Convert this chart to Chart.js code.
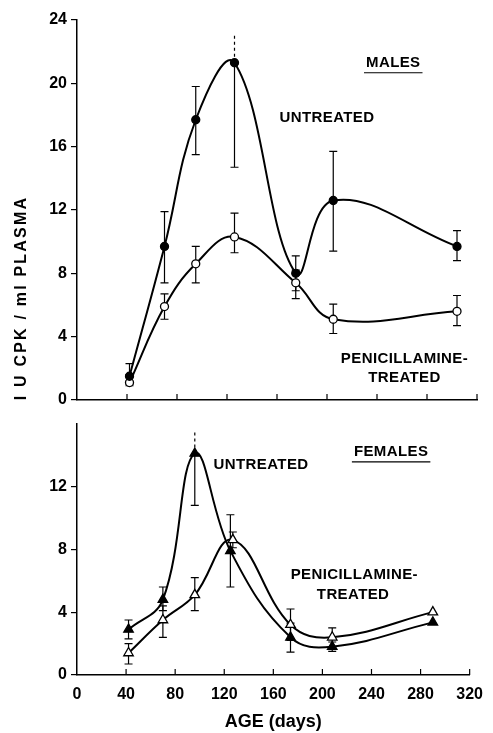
<!DOCTYPE html>
<html>
<head>
<meta charset="utf-8">
<script src="https://cdn.jsdelivr.net/npm/chart.js@4"></script>
<style>
    html, body { margin: 0; padding: 0; background: #fff; }
    #wrap { position: relative; width: 493px; height: 733px; }
    #males { position: absolute; left: 0; top: 0; }
    #females { position: absolute; left: 0; top: 410px; }
</style>
</head>
<body>
<div id="wrap">
    <canvas id="males" width="493" height="420"></canvas>
    <canvas id="females" width="493" height="323"></canvas>
</div>
<script>
// x axis (age in days)
const xTicks = [0, 40, 80, 120, 160, 200, 240, 280, 320];

// males
const maleAge = [42, 70, 95, 126, 175, 205, 304];
const maleUntreated = [1.5, 9.7, 17.7, 21.3, 8.0, 12.6, 9.7];
const maleUntreatedLow = [1.0, 7.4, 15.5, 14.7, 6.9, 9.4, 8.8];
const maleUntreatedHigh = [2.3, 11.9, 19.8, 23.2, 9.1, 15.7, 10.7];
const maleUntreatedDashed = [false, false, false, true, false, false, false];
const maleTreated = [1.1, 5.9, 8.6, 10.3, 7.4, 5.1, 5.6];
const maleTreatedLow = [0.9, 5.1, 7.4, 9.3, 6.4, 4.2, 4.7];
const maleTreatedHigh = [1.6, 6.7, 9.7, 11.8, 8.2, 6.05, 6.6];
const maleYTicks = [0, 4, 8, 12, 16, 20, 24];

// females
const femaleAge = [42, 70, 96, 125, 174, 208, 290];
const femaleTreatedAge = [42, 70, 96, 127, 174, 208, 290];
const femaleUntreated = [2.9, 4.8, 14.1, 7.9, 2.4, 1.8, 3.35];
const femaleUntreatedLow = [2.3, 4.1, 10.8, 5.6, 1.45, 1.5, null];
const femaleUntreatedHigh = [3.5, 5.6, 15.6, 10.2, 3.3, 2.1, null];
const femaleUntreatedDashed = [false, false, true, false, false, false, false];
const femaleTreated = [1.4, 3.5, 5.1, 8.6, 3.2, 2.4, 4.0];
const femaleTreatedLow = [0.7, 2.4, 4.1, 8.1, 2.2, 1.8, null];
const femaleTreatedHigh = [2.0, 4.4, 6.2, 9.1, 4.2, 3.0, null];
const femaleYTicks = [0, 4, 8, 12];

function toPoints(xs, ys) {
    return xs.map((x, i) => ({ x: x, y: ys[i] }));
}

// error bars drawn under the markers
const errorBars = {
    id: 'errorBars',
    beforeDatasetsDraw(chart) {
        const ctx = chart.ctx;
        const xs = chart.scales.x, ys = chart.scales.y;
        ctx.save();
        ctx.strokeStyle = '#000';
        ctx.lineWidth = 1.2;
        chart.data.datasets.forEach(ds => {
            if (!ds.errLow) return;
            ds.data.forEach((p, i) => {
                const px = xs.getPixelForValue(p.x);
                const py = ys.getPixelForValue(p.y);
                const lo = ds.errLow[i], hi = ds.errHigh[i];
                const dashed = ds.errDashed && ds.errDashed[i];
                if (lo != null) {
                    const yl = ys.getPixelForValue(lo);
                    ctx.beginPath();
                    ctx.moveTo(px, py); ctx.lineTo(px, yl);
                    ctx.moveTo(px - 4, yl); ctx.lineTo(px + 4, yl);
                    ctx.stroke();
                }
                if (hi != null) {
                    const yh = ys.getPixelForValue(hi);
                    ctx.beginPath();
                    if (dashed) {
                        ctx.setLineDash([3, 3]);
                        ctx.moveTo(px, py); ctx.lineTo(px, yh);
                        ctx.stroke();
                        ctx.setLineDash([]);
                    } else {
                        ctx.moveTo(px, py); ctx.lineTo(px, yh);
                        ctx.moveTo(px - 4, yh); ctx.lineTo(px + 4, yh);
                        ctx.stroke();
                    }
                }
            });
        });
        ctx.restore();
    }
};

// x tick marks pointing into the plot, plus the free text labels
const extras = {
    id: 'extras',
    afterDraw(chart, args, opts) {
        const ctx = chart.ctx;
        const xs = chart.scales.x, ys = chart.scales.y;
        ctx.save();
        ctx.strokeStyle = '#000';
        ctx.lineWidth = 1.2;
        xs.ticks.forEach(t => {
            if (t.value === 0) return;
            const px = xs.getPixelForValue(t.value);
            ctx.beginPath();
            ctx.moveTo(px, ys.bottom);
            ctx.lineTo(px, ys.bottom - 6);
            ctx.stroke();
        });
        ctx.fillStyle = '#000';
        ctx.font = 'bold 15px "Liberation Sans", Arial, sans-serif';
        ctx.textAlign = 'center';
        ctx.textBaseline = 'middle';
        ctx.letterSpacing = '0.4px';
        (opts.notes || []).forEach(n => {
            const px = xs.getPixelForValue(n.x);
            const py = ys.getPixelForValue(n.y);
            ctx.fillText(n.text, px, py);
            if (n.underline) {
                const w = ctx.measureText(n.text).width;
                ctx.beginPath();
                ctx.moveTo(px - w / 2 - 2, py + 10);
                ctx.lineTo(px + w / 2 + 2, py + 10);
                ctx.stroke();
            }
        });
        if (opts.yTitle) {
            ctx.font = 'bold 16px "Liberation Sans", Arial, sans-serif';
            ctx.letterSpacing = '2.2px';
            ctx.translate(opts.yTitle.x, opts.yTitle.y);
            ctx.rotate(-Math.PI / 2);
            ctx.fillText(opts.yTitle.text, 0, 0);
        }
        ctx.restore();
    }
};

const tickFont = { family: '"Liberation Sans", Arial, sans-serif', size: 16, weight: 'bold' };

function lineSet(xs, ys, lo, hi, dashed, style, filled) {
    return {
        data: toPoints(xs, ys),
        errLow: lo,
        errHigh: hi,
        errDashed: dashed,
        borderColor: '#000',
        borderWidth: 2,
        tension: 0.4,
        pointStyle: style,
        pointRadius: style === 'triangle' ? 5.5 : 4,
        pointBorderWidth: 1.3,
        pointBorderColor: '#000',
        pointBackgroundColor: filled ? '#000' : '#fff',
        clip: false
    };
}

function makeChart(canvas, datasets, yMax, yTicks, showX, padTop, xHeight, notes, yTitle) {
    return new Chart(canvas, {
        type: 'line',
        data: { datasets: datasets },
        plugins: [errorBars, extras],
        options: {
            responsive: false,
            animation: false,
            layout: { padding: { top: padTop, right: 16, left: 0, bottom: 0 } },
            scales: {
                x: {
                    type: 'linear',
                    min: xTicks[0],
                    max: xTicks[xTicks.length - 1],
                    afterBuildTicks: s => { s.ticks = xTicks.map(v => ({ value: v })); },
                    afterFit: s => { s.height = xHeight; },
                    grid: { display: false, drawTicks: false },
                    border: { display: true, color: '#000', width: 1.5 },
                    ticks: { display: showX, color: '#000', padding: 10, font: tickFont, maxRotation: 0 },
                    title: {
                        display: showX,
                        text: 'AGE (days)',
                        color: '#000',
                        font: { family: '"Liberation Sans", Arial, sans-serif', size: 18, weight: 'bold' },
                        padding: { top: 4, bottom: 0 }
                    }
                },
                y: {
                    min: 0,
                    max: yMax,
                    afterBuildTicks: s => { s.ticks = yTicks.map(v => ({ value: v })); },
                    afterFit: s => { s.width = 77; },
                    grid: { drawOnChartArea: false, drawTicks: true, tickLength: 6, color: '#000', lineWidth: 1.2 },
                    border: { display: true, color: '#000', width: 1.5 },
                    ticks: { color: '#000', padding: 4, font: tickFont }
                }
            },
            plugins: {
                legend: { display: false },
                tooltip: { enabled: false },
                extras: { notes: notes, yTitle: yTitle }
            }
        }
    });
}

makeChart(document.getElementById('males'), [
    lineSet(maleAge, maleUntreated, maleUntreatedLow, maleUntreatedHigh, maleUntreatedDashed, 'circle', true),
    lineSet(maleAge, maleTreated, maleTreatedLow, maleTreatedHigh, null, 'circle', false)
], 24, maleYTicks, false, 20, 20, [
    { text: 'MALES', x: 253, y: 21.3, underline: true },
    { text: 'UNTREATED', x: 200, y: 17.8 },
    { text: 'PENICILLAMINE-', x: 262, y: 2.6 },
    { text: 'TREATED', x: 262, y: 1.4 }
], { text: 'I U CPK / ml PLASMA', x: 22, y: 298 });

makeChart(document.getElementById('females'), [
    lineSet(femaleAge, femaleUntreated, femaleUntreatedLow, femaleUntreatedHigh, femaleUntreatedDashed, 'triangle', true),
    lineSet(femaleTreatedAge, femaleTreated, femaleTreatedLow, femaleTreatedHigh, null, 'triangle', false)
], 16, femaleYTicks, true, 13, 58, [
    { text: 'FEMALES', x: 256, y: 14.2, underline: true },
    { text: 'UNTREATED', x: 150, y: 13.4 },
    { text: 'PENICILLAMINE-', x: 226, y: 6.35 },
    { text: 'TREATED', x: 225, y: 5.1 }
], null);
</script>
</body>
</html>
